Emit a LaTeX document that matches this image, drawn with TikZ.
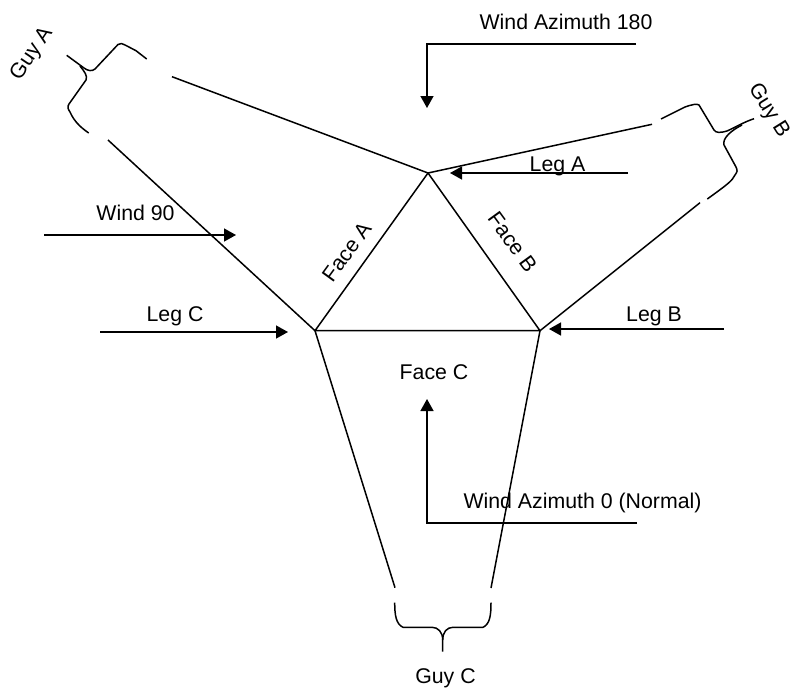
\documentclass[tikz,border=0pt]{standalone}
\usepackage{fontspec}
\setmainfont{Liberation Sans}
\usetikzlibrary{arrows.meta}
\tikzset{
  line/.style={line width=1.5pt,line join=round,black},
  wind/.style={line width=1.4pt,-{Triangle[length=12pt,width=13pt]}},
  lbl/.style={font=\fontsize{21.3}{24}\selectfont,inner sep=0pt,text=black}
}
\begin{document}
\begin{tikzpicture}[x=1pt,y=-1pt]
\useasboundingbox (0,0) rectangle (791,688);
\coordinate (A) at (428,173);
\coordinate (B) at (540,330.7);
\coordinate (C) at (315,330.7);
\draw[line] (A)--(B)--(C)--cycle;
% guy lines
\coordinate (ga1) at (172,76.7);
\coordinate (ga2) at (108,140);
\coordinate (gb1) at (652,124.3);
\coordinate (gb2) at (700,202.7);
\coordinate (gc1) at (395,587.7);
\coordinate (gc2) at (491,588);
\draw[line] (A)--(ga1);
\draw[line] (C)--(ga2);
\draw[line] (A)--(gb1);
\draw[line] (B)--(gb2);
\draw[line] (C)--(gc1);
\draw[line] (B)--(gc2);
% braces
\draw[line] (146.7,59) -- (136,50.7) -- (127,46) .. controls (122,43.5) and (120,42.5) .. (118,44.5) -- (95,69) .. controls (92,71.5) and (88,71) .. (84,68) -- (66.7,55.3);
\draw[line] (80,66) .. controls (84,71) and (88,76) .. (86,80) -- (69,104) .. controls (67,107) and (68,109) .. (70,112) .. controls (74,121) and (80,127) .. (88.7,133);
\draw[line] (661,119) -- (685,107) .. controls (692,104.5) and (697,103.5) .. (699,105) -- (714,130) .. controls (716,133) and (720,133) .. (727,131) .. controls (736,127) and (744,122) .. (754,118.7);
\draw[line] (742,125) .. controls (732,130) and (722,138) .. (724,145) -- (736,167) .. controls (738,171) and (737,172) .. (735,175) .. controls (732,181) and (728,184) .. (707.3,199);
\draw[line] (394.7,602.7) .. controls (394.7,615) and (396,624) .. (403,627.3) -- (432,627.3) .. controls (438,627.3) and (442.7,632) .. (442.7,640) -- (442.7,651.7);
\draw[line] (491,602.7) .. controls (491,615) and (490,624) .. (483,627.3) -- (453,627.3) .. controls (447,627.3) and (442.7,632) .. (442.7,640);
% arrows
\coordinate (w1s) at (427,44); \coordinate (w1c) at (636,44); \coordinate (w1e) at (427,108);
\draw[wind] (w1c)--(w1s)--(w1e);
\coordinate (la1) at (628,173); \coordinate (la2) at (450,173);
\draw[wind] (la1)--(la2);
\coordinate (w91) at (44,235); \coordinate (w92) at (236,235);
\draw[wind] (w91)--(w92);
\coordinate (lc1) at (100,332); \coordinate (lc2) at (288,332);
\draw[wind] (lc1)--(lc2);
\coordinate (lb1) at (724,329); \coordinate (lb2) at (549,329);
\draw[wind] (lb1)--(lb2);
\coordinate (w0a) at (637,523); \coordinate (w0b) at (427,523); \coordinate (w0c) at (427,399);
\draw[wind] (w0a)--(w0b)--(w0c);
% labels
\node[lbl] (t1) at (566,22) {Wind Azimuth 180};
\node[lbl] (t2) at (557.5,166) {Leg A};
\node[lbl] (t3) at (654,316) {Leg B};
\node[lbl] (t4) at (175,316) {Leg C};
\node[lbl] (t5) at (135.5,213) {Wind 90};
\node[lbl] (t6) at (434,372) {Face C};
\node[lbl] (t7) at (582.5,503) {Wind Azimuth 0 (Normal)};
\node[lbl] (t8) at (445.5,678) {Guy C};
\node[lbl,rotate=54] (t10) at (346.7,251.7) {Face A};
\node[lbl,rotate=-54] (t11) at (512.5,242) {Face B};
\node[lbl,rotate=56] (t12) at (32,54) {Guy A};
\node[lbl,rotate=-58] (t13) at (768.5,111) {Guy B};
\end{tikzpicture}
\end{document}
